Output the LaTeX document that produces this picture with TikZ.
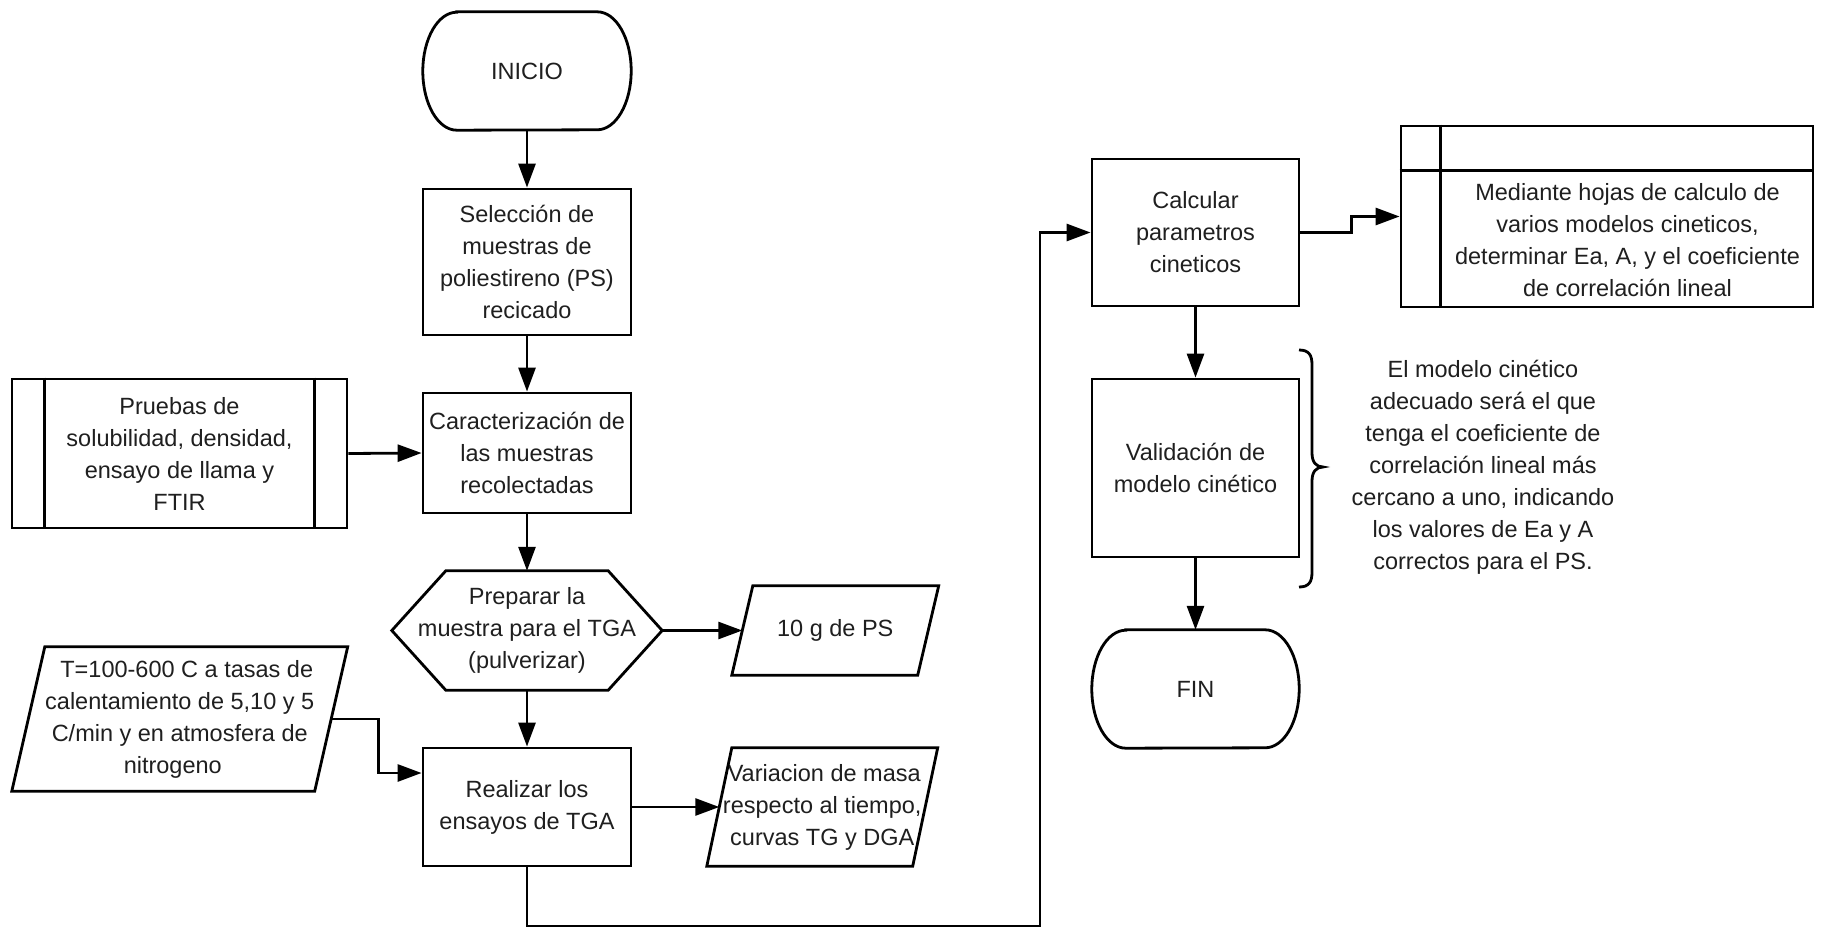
\documentclass[tikz,border=0pt]{standalone}
\usepackage{fontspec}
\setmainfont{Liberation Sans}
\usetikzlibrary{arrows.meta,calc}
\begin{document}
\begin{tikzpicture}[x=1pt,y=-1pt,
  lw/.style={line width=2.8pt,line join=miter},
  tx/.style={font=\fontsize{23.5}{32}\selectfont, align=center, text=black!88, inner sep=0pt},
  boxn/.style={tx, draw, lw, rectangle},
  ghost/.style={tx, rectangle},
  arr/.style={lw, -{Triangle[length=24pt,width=17pt]}}]
\useasboundingbox[fill=white] (0,0) rectangle (1824,928);

% start
\node[ghost, minimum width=208pt, minimum height=118pt] (ini) at (527,71) {INICIO};
\draw[lw] ([xshift=34pt]ini.north west) -- ([xshift=-34pt]ini.north east)
  arc[start angle=90,end angle=-90,x radius=34pt,y radius=59pt]
  -- ([xshift=34pt]ini.south west)
  arc[start angle=270,end angle=90,x radius=34pt,y radius=59pt] -- cycle;

\node[boxn, minimum width=208pt, minimum height=146pt] (sel) at (527,262)
  {Selección de\\muestras de\\poliestireno (PS)\\recicado};

\node[boxn, minimum width=208pt, minimum height=120pt] (car) at (527,453)
  {Caracterización de\\las muestras\\recolectadas};

\node[boxn, minimum width=335pt, minimum height=149pt] (pru) at (179.5,453.5)
  {Pruebas de\\solubilidad, densidad,\\ensayo de llama y\\FTIR};
\draw[lw] ([xshift=34pt]pru.north west) -- ([xshift=34pt]pru.south west);
\draw[lw] ([xshift=-34pt]pru.north east) -- ([xshift=-34pt]pru.south east);

% hexagon
\node[ghost, minimum width=270pt, minimum height=119pt] (hex) at (527,630.5)
  {Preparar la\\muestra para el TGA\\(pulverizar)};
\draw[lw] (hex.west) -- ([xshift=54pt]hex.north west) -- ([xshift=-54pt]hex.north east)
  -- (hex.east) -- ([xshift=-54pt]hex.south east) -- ([xshift=54pt]hex.south west) -- cycle;

% 10 g de PS
\node[ghost, minimum width=185.5pt, minimum height=89pt] (tg) at (835.25,630.5) {10 g de PS};
\draw[lw] ([xshift=10.5pt]tg.north west) -- ([xshift=10.5pt]tg.north east)
  -- ([xshift=-10.5pt]tg.south east) -- ([xshift=-10.5pt]tg.south west) -- cycle;

% T=100 parallelogram
\node[ghost, minimum width=302.5pt, minimum height=144pt] (tp) at (179.75,719)
  {\hspace*{14pt}T=100-600 C a tasas de\\calentamiento de 5,10 y 5\\C/min y en atmosfera de\\\hspace*{-14pt}nitrogeno};
\draw[lw] ([xshift=16.5pt]tp.north west) -- ([xshift=16.5pt]tp.north east)
  -- ([xshift=-16.5pt]tp.south east) -- ([xshift=-16.5pt]tp.south west) -- cycle;

\node[boxn, minimum width=208pt, minimum height=118pt] (real) at (527,807)
  {Realizar los\\ensayos de TGA};

% Variacion parallelogram
\node[ghost, minimum width=205.5pt, minimum height=118pt] (var) at (822.25,807)
  {\hspace*{4pt}Variacion de masa\\respecto al tiempo,\\curvas TG y DGA};
\draw[lw] ([xshift=12.5pt]var.north west) -- ([xshift=12.5pt]var.north east)
  -- ([xshift=-12.5pt]var.south east) -- ([xshift=-12.5pt]var.south west) -- cycle;

% right column
\node[boxn, minimum width=207pt, minimum height=147pt] (calc) at (1195.5,232.5)
  {Calcular\\parametros\\cineticos};

\node[boxn, minimum width=412pt, minimum height=181pt] (med) at (1607,216.5) {};
\draw[lw] ([xshift=41pt]med.north west) -- ([xshift=41pt]med.south west);
\draw[lw] ([yshift=-46pt]med.north west) -- ([yshift=-46pt]med.north east);
\node[tx] (medtxt) at (1627.5,240)
  {Mediante hojas de calculo de\\varios modelos cineticos,\\determinar Ea, A, y el coeficiente\\de correlación lineal};

\node[boxn, minimum width=207pt, minimum height=178pt] (val) at (1195.5,468)
  {Validación de\\modelo cinético};

\node[ghost, minimum width=207pt, minimum height=118pt] (fin) at (1195.5,689) {FIN};
\draw[lw] ([xshift=34pt]fin.north west) -- ([xshift=-34pt]fin.north east)
  arc[start angle=90,end angle=-90,x radius=34pt,y radius=59pt]
  -- ([xshift=34pt]fin.south west)
  arc[start angle=270,end angle=90,x radius=34pt,y radius=59pt] -- cycle;

% brace and note
\draw[lw] (1299,350) .. controls (1309,350) and (1312,355) .. (1312,365) -- (1312,453)
  .. controls (1312,462) and (1316,467) .. (1323,467)
  .. controls (1316,467) and (1312,472) .. (1312,481) -- (1312,572)
  .. controls (1312,582) and (1309,587) .. (1299,587);
\node[tx] (note) at (1483,467)
  {El modelo cinético\\adecuado será el que\\tenga el coeficiente de\\correlación lineal más\\cercano a uno, indicando\\los valores de Ea y A\\correctos para el PS.};

% connectors
\draw[arr] (ini.south) -- (sel.north);
\draw[arr] (sel.south) -- (car.north);
\draw[arr] (pru.east) -- (car.west);
\draw[arr] (car.south) -- (hex.north);
\draw[arr] (hex.east) -- (tg.west);
\draw[arr] (hex.south) -- (real.north);
\draw[arr] (tp.east) -- ++(47,0) |- ([yshift=34pt]real.west);
\draw[arr] (real.east) -- (var.west);
\coordinate (c1) at (1040,926);
\draw[arr] (real.south) |- (c1) |- (calc.west);
\draw[arr] (calc.east) -- ++(51,0) |- (med.west);
\draw[arr] (calc.south) -- (val.north);
\draw[arr] (val.south) -- (fin.north);
\end{tikzpicture}
\end{document}
